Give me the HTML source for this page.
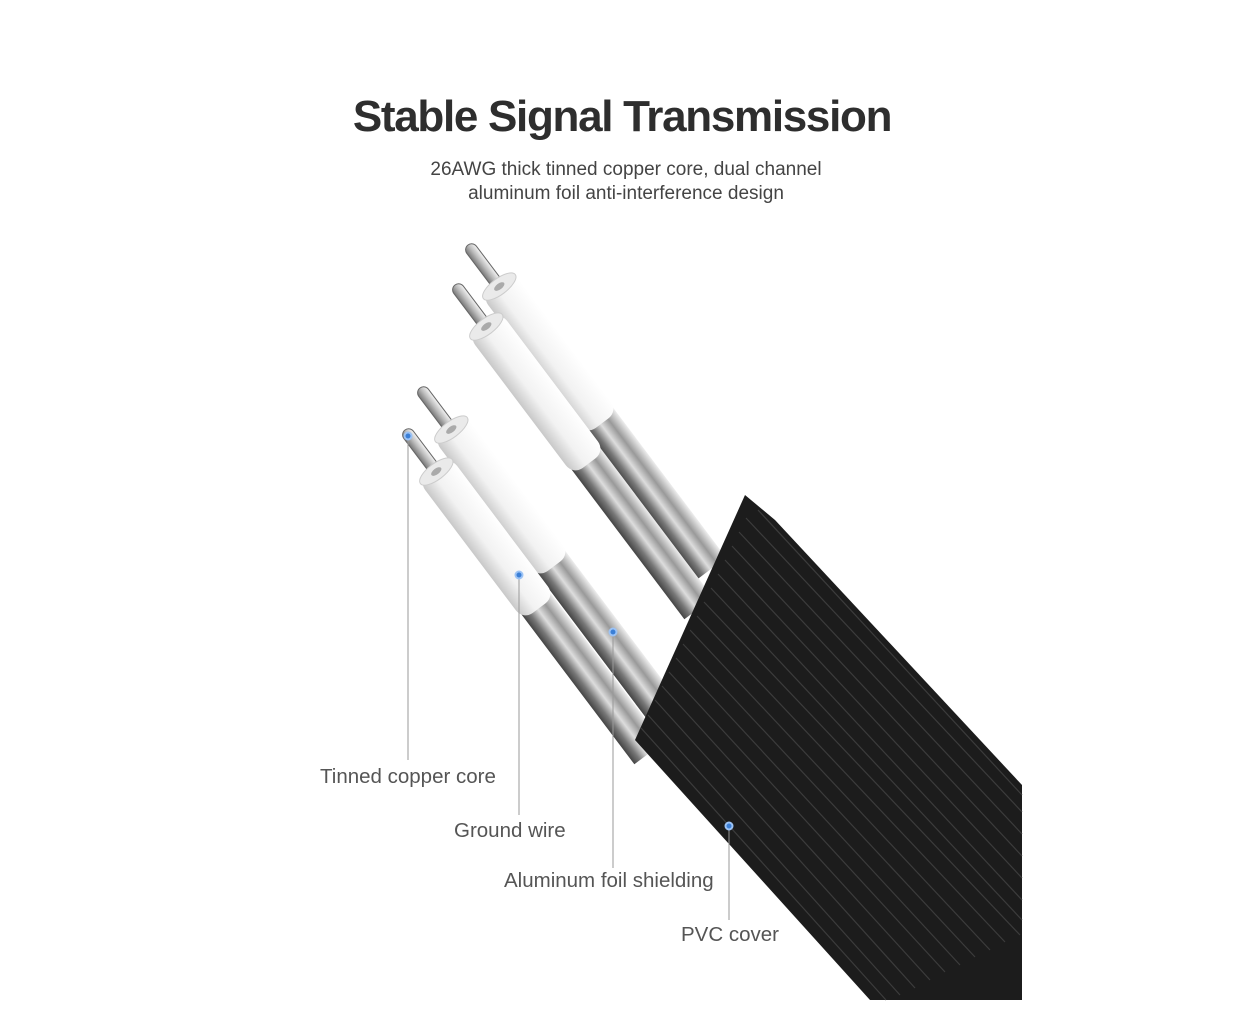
<!DOCTYPE html>
<html><head><meta charset="utf-8"><style>
html,body{margin:0;padding:0;background:#fff}
body{width:1252px;height:1024px;position:relative;overflow:hidden;font-family:"Liberation Sans",sans-serif}
.t{position:absolute;left:0;width:1252px;text-align:center;color:#333}
.l{position:absolute;color:#555;font-size:20.5px;white-space:nowrap}
</style></head><body>
<div class="t" style="top:92px;font-size:44px;font-weight:bold;letter-spacing:-1.3px;color:#2e2e2e;left:-4px">Stable Signal Transmission</div>
<div class="t" style="top:158px;font-size:19px;line-height:24px;color:#444">26AWG thick tinned copper core, dual channel<br>aluminum foil anti-interference design</div>
<svg width="1252" height="1024" style="position:absolute;left:0;top:0">
<defs>
<linearGradient id="core" x1="0" y1="0" x2="0" y2="1"><stop offset="0" stop-color="#f4f4f4"/><stop offset=".5" stop-color="#bbb"/><stop offset="1" stop-color="#777"/></linearGradient>
<linearGradient id="ins" x1="0" y1="0" x2="0" y2="1"><stop offset="0" stop-color="#fff"/><stop offset=".6" stop-color="#f2f2f2"/><stop offset="1" stop-color="#c8c8c8"/></linearGradient>
<linearGradient id="foil" x1="0" y1="0" x2="0" y2="1"><stop offset="0" stop-color="#eee"/><stop offset=".3" stop-color="#999"/><stop offset=".55" stop-color="#ddd"/><stop offset=".8" stop-color="#777"/><stop offset="1" stop-color="#444"/></linearGradient>
<g id="w">
<rect x="0" y="-6" width="60" height="12" rx="6" fill="url(#core)" stroke="#666" stroke-width="1"/>
<rect x="215" y="-18" width="190" height="36" fill="url(#foil)"/>
<rect x="48" y="-20" width="175" height="40" rx="12" fill="url(#ins)"/>
<ellipse cx="52" cy="0" rx="8" ry="20" fill="#eaeaea" stroke="#ccc"/>
<ellipse cx="52" cy="0" rx="3" ry="6" fill="#aaa"/>
</g>
</defs>
<use href="#w" transform="translate(468,245) rotate(53)"/>
<use href="#w" transform="translate(455,285) rotate(53)"/>
<use href="#w" transform="translate(420,388) rotate(53)"/>
<use href="#w" transform="translate(405,430) rotate(53)"/>
<polygon points="635,740 745,495 775,520 1022,785 1022,1000 870,1000" fill="#1c1c1c"/>
<g stroke="#3c3c3c" stroke-width="1.2">
<line x1="641" y1="728" x2="886" y2="1000"/><line x1="648" y1="715" x2="900" y2="995"/>
<line x1="655" y1="700" x2="915" y2="988"/><line x1="662" y1="686" x2="930" y2="980"/>
<line x1="669" y1="672" x2="945" y2="972"/><line x1="676" y1="658" x2="960" y2="965"/>
<line x1="683" y1="644" x2="975" y2="957"/><line x1="690" y1="630" x2="990" y2="950"/>
<line x1="697" y1="616" x2="1005" y2="942"/><line x1="704" y1="602" x2="1020" y2="935"/>
<line x1="711" y1="588" x2="1022" y2="920"/><line x1="718" y1="574" x2="1022" y2="900"/>
<line x1="725" y1="560" x2="1022" y2="878"/><line x1="732" y1="546" x2="1022" y2="856"/>
<line x1="739" y1="532" x2="1022" y2="834"/><line x1="746" y1="518" x2="1022" y2="812"/>
<line x1="758" y1="510" x2="1022" y2="795"/>
</g>
<g stroke="#999" stroke-width="1" fill="none">
<line x1="408" y1="436" x2="408" y2="760"/><line x1="519" y1="575" x2="519" y2="815"/>
<line x1="613" y1="632" x2="613" y2="868"/><line x1="729" y1="826" x2="729" y2="920"/>
</g>
<g fill="#3b7fd6" stroke="#9cc3f5" stroke-width="2">
<circle cx="408" cy="436" r="3.5"/><circle cx="519" cy="575" r="3.5"/><circle cx="613" cy="632" r="3.5"/><circle cx="729" cy="826" r="3.5"/>
</g>
</svg>
<div class="l" style="left:320px;top:765px">Tinned copper core</div>
<div class="l" style="left:454px;top:819px">Ground wire</div>
<div class="l" style="left:504px;top:869px">Aluminum foil shielding</div>
<div class="l" style="left:681px;top:923px">PVC cover</div>
</body></html>
